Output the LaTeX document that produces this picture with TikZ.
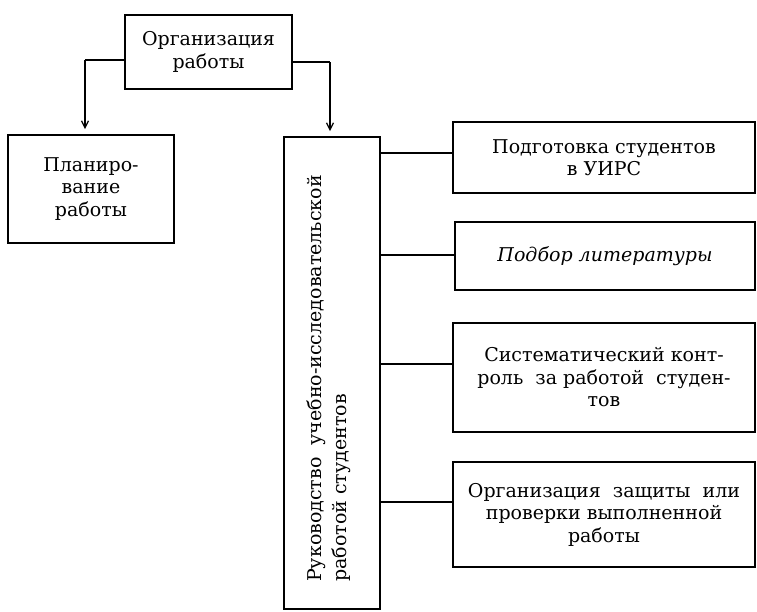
\documentclass[tikz,border=0pt]{standalone}
\usepackage{fontspec}
\setmainfont{DejaVu Serif}
\usetikzlibrary{arrows.meta}
\begin{document}
\begin{tikzpicture}[x=1pt,y=-1pt,
  box/.style={draw,line width=1.8pt,inner sep=0pt,align=center,
    font=\fontsize{19}{22.5}\selectfont},
  conn/.style={line width=1.6pt},
  arr/.style={line width=1.3pt,-{Straight Barb[length=7pt,width=7pt,line width=1.2pt]},shorten >=5pt}]
\useasboundingbox (0,0) rectangle (757,611);
\node[box,minimum width=167pt,minimum height=74pt] (top) at (208.5,52) {Организация\\работы};
\node[box,minimum width=166pt,minimum height=108pt] (plan) at (91,189) {Планиро-\\вание\\работы};
\node[box,minimum width=96pt,minimum height=472pt] (ruk) at (332,373) {};
\node[rotate=90,anchor=north west,inner sep=0pt,align=left,
  font=\fontsize{19}{25}\selectfont] (rtext) at (307,582)
  {Руководство \ учебно-исследовательской\\работой студентов};
\node[box,minimum width=302pt,minimum height=71pt] (r1) at (604,157.5) {Подготовка студентов\\в УИРС};
\node[box,minimum width=300pt,minimum height=68pt] (r2) at (605,256) {\itshape Подбор литературы};
\node[box,minimum width=302pt,minimum height=109pt] (r3) at (604,377.5) {Систематический конт-\\роль \ за работой \ студен-\\тов};
\node[box,minimum width=302pt,minimum height=105pt] (r4) at (604,514.5) {Организация \ защиты \ или\\проверки выполненной\\работы};
\coordinate (tl) at (85,60);
\coordinate (tr) at (330,62);
\draw[conn] (top.west |- tl) -- (tl);
\draw[arr] (tl) -- (tl |- plan.north);
\draw[conn] (top.east |- tr) -- (tr);
\draw[arr] (tr) -- (tr |- ruk.north);
\draw[conn] (ruk.east |- 0,153) -- (r1.west |- 0,153);
\draw[conn] (ruk.east |- 0,255) -- (r2.west |- 0,255);
\draw[conn] (ruk.east |- 0,364) -- (r3.west |- 0,364);
\draw[conn] (ruk.east |- 0,502) -- (r4.west |- 0,502);
\end{tikzpicture}
\end{document}
